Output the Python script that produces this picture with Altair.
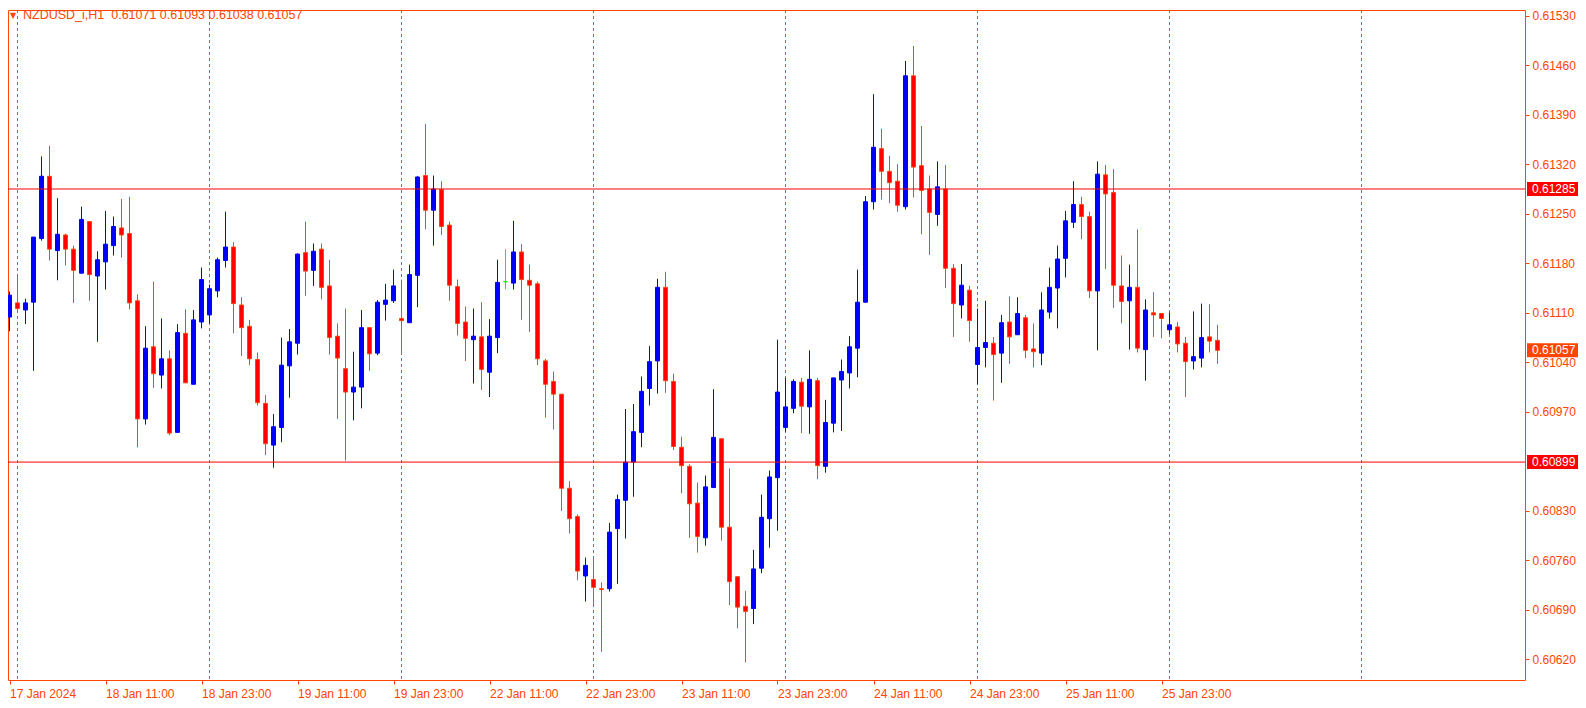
import altair as alt
import pandas as pd
import numpy as np

symbol = "NZDUSD_i,H1"

opens = [0.61104, 0.61124, 0.61114, 0.61125, 0.61215, 0.61303, 0.61198, 0.61220, 0.61200, 0.61166,
         0.61239, 0.61162, 0.61182, 0.61205, 0.61230, 0.61222, 0.61127, 0.60960, 0.61062, 0.61022,
         0.61045, 0.60941, 0.61081, 0.61009, 0.61097, 0.61107, 0.61141, 0.61184, 0.61203, 0.61121,
         0.61091, 0.61044, 0.60982, 0.60923, 0.60948, 0.61035, 0.61067, 0.61195, 0.61170, 0.61200,
         0.61148, 0.61077, 0.61031, 0.60998, 0.61005, 0.61089, 0.61053, 0.61122, 0.61127, 0.61102,
         0.61096, 0.61163, 0.61304, 0.61255, 0.61284, 0.61234, 0.61147, 0.61097, 0.61072, 0.61076,
         0.61026, 0.61075, 0.61154, 0.61152, 0.61196, 0.61156, 0.61151, 0.61042, 0.61013, 0.60995,
         0.60862, 0.60822, 0.60738, 0.60733, 0.60720, 0.60720, 0.60805, 0.60845, 0.60899, 0.60941,
         0.61003, 0.61042, 0.61146, 0.61013, 0.60920, 0.60893, 0.60841, 0.60792, 0.60863, 0.60932,
         0.60807, 0.60737, 0.60695, 0.60692, 0.60749, 0.60819, 0.60877, 0.60948, 0.60975, 0.61012,
         0.60977, 0.61014, 0.60893, 0.60954, 0.61015, 0.61025, 0.61060, 0.61125, 0.61267, 0.61342,
         0.61310, 0.61296, 0.61260, 0.61445, 0.61318, 0.61285, 0.61249, 0.61285, 0.61173, 0.61121,
         0.61142, 0.61037, 0.61061, 0.61067, 0.61053, 0.61097, 0.61079, 0.61103, 0.61059, 0.61053,
         0.61111, 0.61145, 0.61187, 0.61238, 0.61263, 0.61246, 0.61141, 0.61305, 0.61280, 0.61148,
         0.61127, 0.61146, 0.61058, 0.61110, 0.61109, 0.61086, 0.61090, 0.61067, 0.61042, 0.61046,
         0.61076, 0.61071]

highs = [0.61140, 0.61165, 0.61130, 0.61217, 0.61331, 0.61346, 0.61272, 0.61222, 0.61205, 0.61260,
         0.61239, 0.61197, 0.61254, 0.61246, 0.61271, 0.61274, 0.61136, 0.61091, 0.61154, 0.61102,
         0.61057, 0.61094, 0.61115, 0.61114, 0.61174, 0.61150, 0.61188, 0.61253, 0.61210, 0.61132,
         0.61100, 0.61054, 0.60994, 0.60967, 0.61075, 0.61087, 0.61194, 0.61239, 0.61208, 0.61208,
         0.61185, 0.61095, 0.61116, 0.61055, 0.61114, 0.61089, 0.61128, 0.61151, 0.61171, 0.61157,
         0.61178, 0.61303, 0.61377, 0.61304, 0.61296, 0.61239, 0.61157, 0.61119, 0.61116, 0.61125,
         0.61101, 0.61185, 0.61200, 0.61240, 0.61207, 0.61178, 0.61154, 0.61045, 0.61027, 0.60995,
         0.60872, 0.60825, 0.60764, 0.60764, 0.60729, 0.60813, 0.60853, 0.60974, 0.60981, 0.61020,
         0.61063, 0.61158, 0.61168, 0.61024, 0.60935, 0.60896, 0.60870, 0.60880, 0.61002, 0.60932,
         0.60890, 0.60737, 0.60717, 0.60775, 0.60853, 0.60887, 0.61072, 0.61018, 0.61016, 0.61018,
         0.61057, 0.61018, 0.60987, 0.61018, 0.61044, 0.61077, 0.61171, 0.61275, 0.61419, 0.61370,
         0.61332, 0.61320, 0.61466, 0.61487, 0.61374, 0.61304, 0.61324, 0.61319, 0.61179, 0.61179,
         0.61148, 0.61116, 0.61127, 0.61076, 0.61107, 0.61133, 0.61132, 0.61107, 0.61095, 0.61139,
         0.61174, 0.61205, 0.61254, 0.61296, 0.61274, 0.61253, 0.61324, 0.61319, 0.61313, 0.61191,
         0.61178, 0.61228, 0.61129, 0.61139, 0.61109, 0.61110, 0.61097, 0.61076, 0.61112, 0.61123,
         0.61122, 0.61093]

lows = [0.61084, 0.61111, 0.61094, 0.61028, 0.61212, 0.61184, 0.61156, 0.61177, 0.61124, 0.61166,
        0.61127, 0.61069, 0.61143, 0.61191, 0.61188, 0.61115, 0.60920, 0.60952, 0.61004, 0.61003,
        0.60937, 0.60941, 0.61011, 0.61009, 0.61088, 0.61095, 0.61132, 0.61174, 0.61081, 0.61049,
        0.61036, 0.60979, 0.60909, 0.60891, 0.60927, 0.60990, 0.61051, 0.61134, 0.61148, 0.61129,
        0.61051, 0.60960, 0.60901, 0.60958, 0.60975, 0.61028, 0.61050, 0.61099, 0.61124, 0.61053,
        0.61096, 0.61118, 0.61228, 0.61205, 0.61220, 0.61127, 0.61078, 0.61042, 0.61010, 0.61001,
        0.60991, 0.61053, 0.61143, 0.61143, 0.61100, 0.61083, 0.61036, 0.60962, 0.60945, 0.60830,
        0.60798, 0.60732, 0.60702, 0.60696, 0.60631, 0.60716, 0.60727, 0.60791, 0.60850, 0.60920,
        0.60979, 0.60996, 0.60997, 0.60916, 0.60855, 0.60792, 0.60771, 0.60781, 0.60863, 0.60788,
        0.60697, 0.60664, 0.60616, 0.60670, 0.60742, 0.60778, 0.60802, 0.60942, 0.60968, 0.60940,
        0.60939, 0.60875, 0.60884, 0.60941, 0.60943, 0.61003, 0.61019, 0.61124, 0.61256, 0.61270,
        0.61265, 0.61253, 0.61256, 0.61273, 0.61221, 0.61192, 0.61233, 0.61145, 0.61076, 0.61102,
        0.61069, 0.61009, 0.61033, 0.60986, 0.61011, 0.61038, 0.61079, 0.61046, 0.61033, 0.61036,
        0.61102, 0.61088, 0.61160, 0.61230, 0.61214, 0.61131, 0.61057, 0.61172, 0.61117, 0.61095,
        0.61058, 0.61054, 0.61014, 0.61076, 0.61074, 0.61080, 0.61054, 0.60991, 0.61030, 0.61033,
        0.61054, 0.61038]

closes = [0.61135, 0.61116, 0.61124, 0.61217, 0.61303, 0.61200, 0.61221, 0.61200, 0.61170, 0.61242,
          0.61164, 0.61185, 0.61207, 0.61232, 0.61220, 0.61124, 0.60960, 0.61060, 0.61024, 0.61045,
          0.60940, 0.61082, 0.61011, 0.61100, 0.61157, 0.61144, 0.61185, 0.61203, 0.61123, 0.61089,
          0.61045, 0.60983, 0.60925, 0.60949, 0.61036, 0.61069, 0.61193, 0.61169, 0.61197, 0.61146,
          0.61075, 0.61046, 0.60998, 0.61005, 0.61089, 0.61052, 0.61125, 0.61128, 0.61148, 0.61099,
          0.61164, 0.61302, 0.61255, 0.61285, 0.61232, 0.61149, 0.61095, 0.61074, 0.61077, 0.61030,
          0.61077, 0.61153, 0.61154, 0.61196, 0.61157, 0.61149, 0.61045, 0.61009, 0.60995, 0.60862,
          0.60819, 0.60745, 0.60753, 0.60722, 0.60719, 0.60800, 0.60846, 0.60899, 0.60942, 0.60999,
          0.61041, 0.61146, 0.61014, 0.60921, 0.60894, 0.60840, 0.60794, 0.60864, 0.60934, 0.60807,
          0.60730, 0.60694, 0.60688, 0.60748, 0.60821, 0.60878, 0.60998, 0.60977, 0.61013, 0.60978,
          0.61016, 0.60894, 0.60955, 0.61018, 0.61027, 0.61062, 0.61125, 0.61267, 0.61344, 0.61310,
          0.61294, 0.61262, 0.61445, 0.61316, 0.61283, 0.61252, 0.61288, 0.61173, 0.61123, 0.61149,
          0.61099, 0.61061, 0.61068, 0.61051, 0.61096, 0.61076, 0.61109, 0.61057, 0.61055, 0.61114,
          0.61146, 0.61186, 0.61240, 0.61263, 0.61246, 0.61141, 0.61306, 0.61278, 0.61149, 0.61126,
          0.61146, 0.61060, 0.61114, 0.61107, 0.61102, 0.61093, 0.61066, 0.61041, 0.61048, 0.61075,
          0.61070, 0.61057]

x_label_bars = [0, 12, 24, 36, 48, 60, 72, 84, 96, 108, 120, 132, 144]
x_labels = ["17 Jan 2024", "18 Jan 11:00", "18 Jan 23:00", "19 Jan 11:00", "19 Jan 23:00",
            "22 Jan 11:00", "22 Jan 23:00", "23 Jan 11:00", "23 Jan 23:00", "24 Jan 11:00",
            "24 Jan 23:00", "25 Jan 11:00", "25 Jan 23:00"]
day_separators = [1, 25, 49, 73, 97, 121, 145, 169]
levels = [0.61285, 0.60899]
y_ticks = [0.61530, 0.61460, 0.61390, 0.61320, 0.61250, 0.61180, 0.61110, 0.61040,
           0.60970, 0.60830, 0.60760, 0.60690, 0.60620]

FG = "#FF4500"
FONT = "Liberation Sans"
W, H = 1517, 670

df = pd.DataFrame({"bar": np.arange(len(opens)), "open": opens, "high": highs,
                   "low": lows, "close": closes})
df["dir"] = np.where(df["close"] > df["open"], "up",
                     np.where(df["close"] < df["open"], "down", "flat"))

xscale = alt.Scale(domain=[-0.1875, -0.1875 + W / 8], nice=False, zero=False, padding=0)
yscale = alt.Scale(domain=[0.60591, 0.61538], nice=False, zero=False, padding=0)

label_expr = "{}[indexof({}, datum.value)]".format(
    "[" + ",".join("'" + s + "'" for s in x_labels) + "]",
    "[" + ",".join(str(v) for v in x_label_bars) + "]")

xaxis = alt.Axis(values=x_label_bars, labelExpr=label_expr, labelAlign="left",
                 labelBaseline="top", tickSize=4, labelPadding=4, grid=False,
                 domain=False, title=None, labelColor=FG, tickColor=FG,
                 labelFont=FONT, labelFontSize=12, labelOverlap=False, labelFlush=False)
yaxis = alt.Axis(orient="right", values=y_ticks, format=".5f", tickSize=4, labelPadding=3,
                 grid=False, domain=False, title=None, labelColor=FG, tickColor=FG,
                 labelFont=FONT, labelFontSize=12, labelOverlap=False, labelBaseline="middle")


def X(f):
    return alt.X(f, type="quantitative", scale=xscale, axis=xaxis)


def Y(f):
    return alt.Y(f, type="quantitative", scale=yscale, axis=yaxis)


stroke_scale = alt.Scale(domain=["up", "down", "flat"], range=["#0000FF", FG, "#00FF00"])
fill_scale = alt.Scale(domain=["up", "down", "flat"], range=["#0000FF", "#FF0000", "#00FF00"])

base = alt.Chart(df)

separators = alt.Chart(pd.DataFrame({"bar": day_separators})).mark_rule(
    stroke=FG, strokeDash=[3, 3], strokeWidth=1).encode(x=X("bar"))

wicks = base.mark_rule(strokeWidth=1).encode(
    x=X("bar"), y=Y("low"), y2=alt.Y2("high"),
    stroke=alt.Stroke("dir:N", scale=stroke_scale, legend=None))

bodies = base.mark_bar(size=4, strokeWidth=1).encode(
    x=X("bar"), y=Y("open"), y2=alt.Y2("close"),
    fill=alt.Fill("dir:N", scale=fill_scale, legend=None),
    stroke=alt.Stroke("dir:N", scale=stroke_scale, legend=None))

lev_df = pd.DataFrame({"price": levels})
level_lines = alt.Chart(lev_df).mark_rule(stroke="#FF0000", strokeWidth=1).encode(y=Y("price"))

level_boxes = alt.Chart(lev_df).mark_rect(color="#FF0000", yOffset=-7, y2Offset=7).encode(
    x=alt.value(W + 2), x2=alt.value(W + 53), y=Y("price"), y2=alt.Y2("price"))
bid_df = pd.DataFrame({"price": [closes[-1]]})
bid_box = alt.Chart(bid_df).mark_rect(color=FG, yOffset=-7, y2Offset=7).encode(
    x=alt.value(W + 2), x2=alt.value(W + 53), y=Y("price"), y2=alt.Y2("price"))
box_df = pd.DataFrame({"price": levels + [closes[-1]]})
box_text = alt.Chart(box_df).mark_text(
    align="left", baseline="middle", color="white", font=FONT, fontSize=12).encode(
    x=alt.value(W + 7), y=Y("price"), text=alt.Text("price:Q", format=".5f"))

title_str = "{}\u00a0\u00a0{:.5f} {:.5f} {:.5f} {:.5f}".format(
    symbol, opens[-1], highs[-1], lows[-1], closes[-1])
title_df = pd.DataFrame({"t": [title_str]})
title_text = alt.Chart(title_df).mark_text(
    align="left", baseline="middle", color=FG, font=FONT, fontSize=12.5).encode(
    x=alt.value(15), y=alt.value(5), text="t:N")
arrow = alt.Chart(pd.DataFrame({"t": ["▼"]})).mark_text(
    align="center", baseline="middle", color=FG, font="DejaVu Sans", fontSize=8).encode(
    x=alt.value(5), y=alt.value(6), text="t:N")

chart = alt.layer(separators, wicks, bodies, level_lines, level_boxes, bid_box, box_text,
                  title_text, arrow).properties(
    width=W, height=H,
    autosize=alt.AutoSizeParams(type="none"),
    padding={"left": 0, "top": 2, "right": 53, "bottom": 26},
    background="white",
).configure_view(stroke=FG, strokeWidth=1)

chart.save("out.html", embed_options={"renderer": "svg", "actions": False})
